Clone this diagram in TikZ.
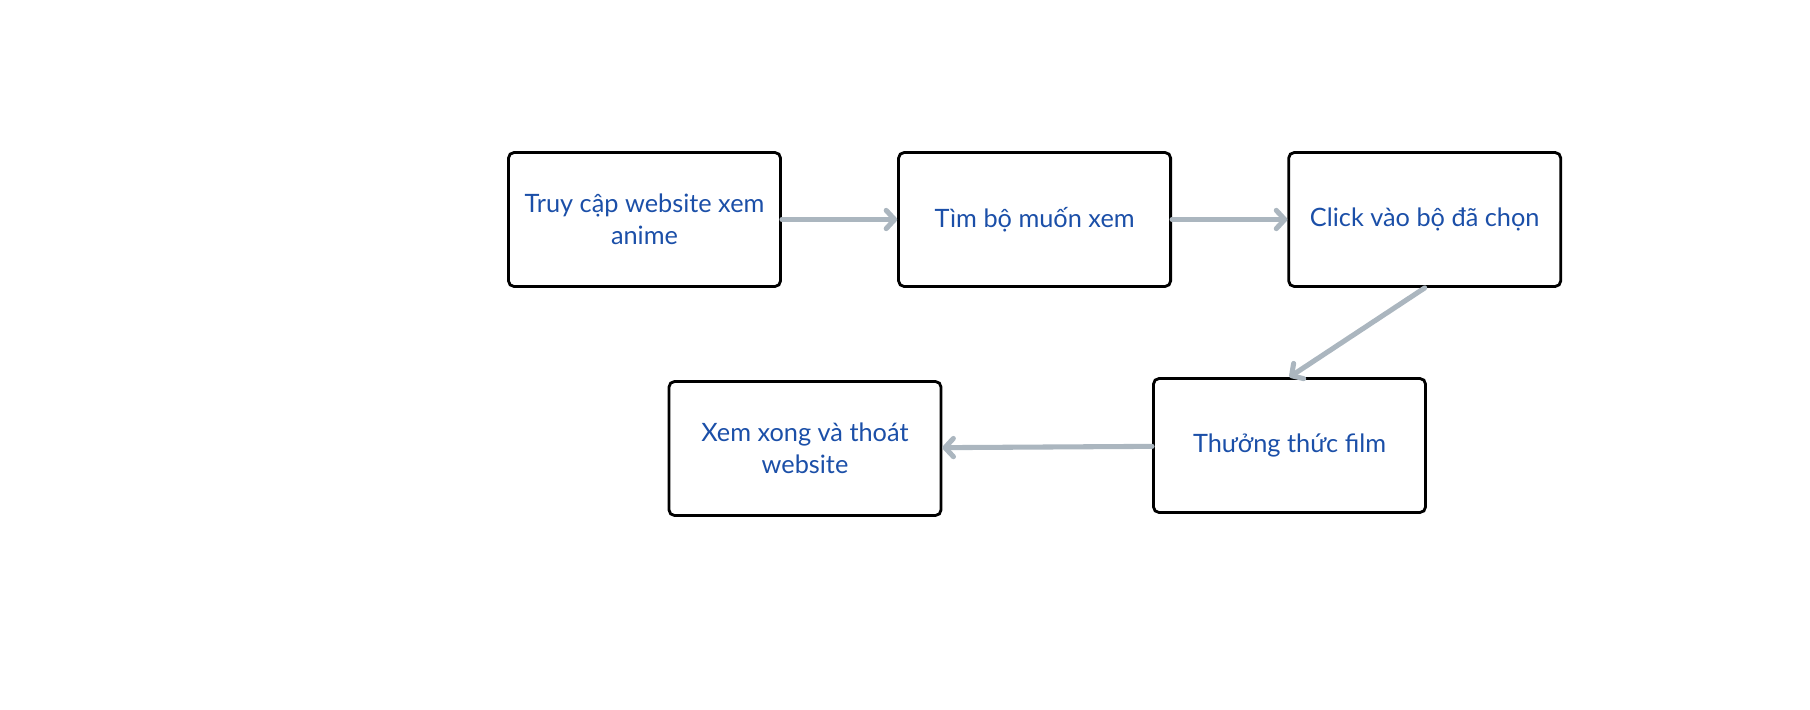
\documentclass[tikz,border=0pt]{standalone}
\usepackage{fontspec}
\setmainfont{Lato}
\usetikzlibrary{arrows.meta}
\definecolor{steptext}{HTML}{1B4FA8}
\definecolor{flowgray}{HTML}{ABB6BF}

\begin{document}
\begin{tikzpicture}[x=0.025cm,y=-0.025cm,>={Straight Barb[length=6pt,width=13pt,round]},node distance=9.75cm,
    step node/.style={draw=black,line width=2pt,rounded corners=4pt,minimum width=6.8cm,minimum height=3.35cm,align=center,text=steptext,font=\fontsize{18}{23}\selectfont},
    flow/.style={->,draw=flowgray,line width=3.6pt,line cap=round}]

            \useasboundingbox (0,0) rectangle (1810,710);

            \node[step node] (1) at (644.5,219.5) {Truy cập website xem\\anime};
            \node[step node] (2) [right of = 1] {Tìm bộ muốn xem};
            \node[step node] (3) [right of = 2] {Click vào bộ đã chọn};
            \node[step node] (4) at (1289.5,445.5) {Thưởng thức film};
            \node[step node] (5) at (805,448.5) {Xem xong và thoát\\website};

            \draw[flow] (1) to (2);
            \draw[flow] (2) to (3);
            \draw[flow] (3.south) to (4.north);
            \draw[flow] (4) to (5);

            ;
        \end{tikzpicture}
\end{document}
